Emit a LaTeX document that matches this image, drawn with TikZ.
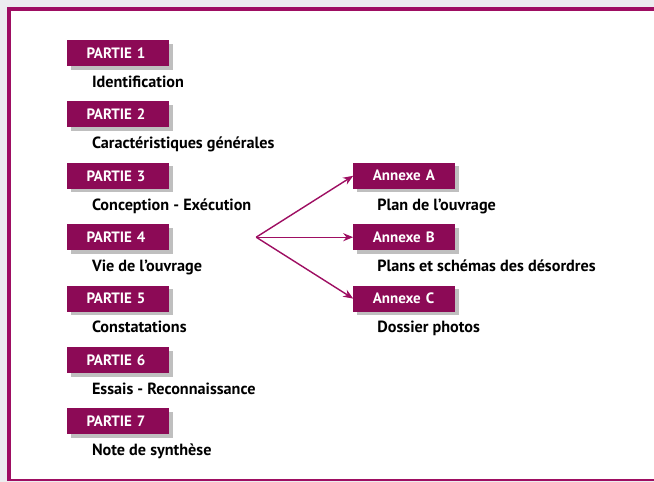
\documentclass[tikz,border=0pt]{standalone}
\usepackage{fontspec}
\setmainfont{PT Sans}
\usetikzlibrary{positioning,arrows.meta,shadows}

\definecolor{prune}{RGB}{140,10,86}
\definecolor{cadre}{RGB}{158,14,98}
\definecolor{fond}{RGB}{236,237,239}

\begin{document}
\begin{tikzpicture}[
  x=1pt, y=-1pt,
  node distance=35pt and 184pt,
  partie/.style={fill=prune, text=white, inner xsep=19.5pt, inner ysep=0pt, text width=63pt, align=left,
    minimum height=26pt, font=\bfseries\fontsize{15}{17}\selectfont,
    drop shadow={opacity=0.5, shadow xshift=3.5pt, shadow yshift=-3.5pt}},
  legende/.style={inner sep=0pt, font=\bfseries\fontsize{16.2}{19}\selectfont},
  fleche/.style={-{Stealth[length=10pt,width=8pt]}, cadre, line width=1.4pt}
]
\useasboundingbox (0,0) rectangle (654,482);
% cadre
\fill[fond] (0,0) rectangle (654,482);
\fill[white] (9,9) rectangle (654,480);
\draw[cadre, line width=4pt] (9,480) -- (9,9) -- (654,9);
\draw[cadre, line width=2pt] (7,480) -- (654,480);

% parties
\node[partie] (p1) at (118,53) {PARTIE 1};
\node[partie, below=of p1] (p2) {PARTIE 2};
\node[partie, below=of p2] (p3) {PARTIE 3};
\node[partie, below=of p3] (p4) {PARTIE 4};
\node[partie, below=of p4] (p5) {PARTIE 5};
\node[partie, below=of p5] (p6) {PARTIE 6};
\node[partie, below=of p6] (p7) {PARTIE 7};

\node[legende, below right=21pt and 25pt of p1.south west, anchor=base west] (l1) {Identification};
\node[legende, below right=21pt and 25pt of p2.south west, anchor=base west] (l2) {Caractéristiques générales};
\node[legende, below right=21pt and 25pt of p3.south west, anchor=base west] (l3) {Conception - Exécution};
\node[legende, below right=21pt and 25pt of p4.south west, anchor=base west] (l4) {Vie de l’ouvrage};
\node[legende, below right=21pt and 25pt of p5.south west, anchor=base west] (l5) {Constatations};
\node[legende, below right=21pt and 25pt of p6.south west, anchor=base west] (l6) {Essais - Reconnaissance};
\node[legende, below right=21pt and 25pt of p7.south west, anchor=base west] (l7) {Note de synthèse};

% annexes
\node[partie, right=of p3] (aA) {Annexe A};
\node[partie, right=of p4] (aB) {Annexe B};
\node[partie, right=of p5] (aC) {Annexe C};

\node[legende, below right=21pt and 24pt of aA.south west, anchor=base west] (lA) {Plan de l’ouvrage};
\node[legende, below right=21pt and 24pt of aB.south west, anchor=base west] (lB) {Plans et schémas des désordres};
\node[legende, below right=21pt and 24pt of aC.south west, anchor=base west] (lC) {Dossier photos};

\coordinate[right=87pt of p4.east] (fourche);
\draw[fleche] (fourche) -- (aA.west);
\draw[fleche] (fourche) -- (aB.west);
\draw[fleche] (fourche) -- (aC.west);
\end{tikzpicture}
\end{document}
